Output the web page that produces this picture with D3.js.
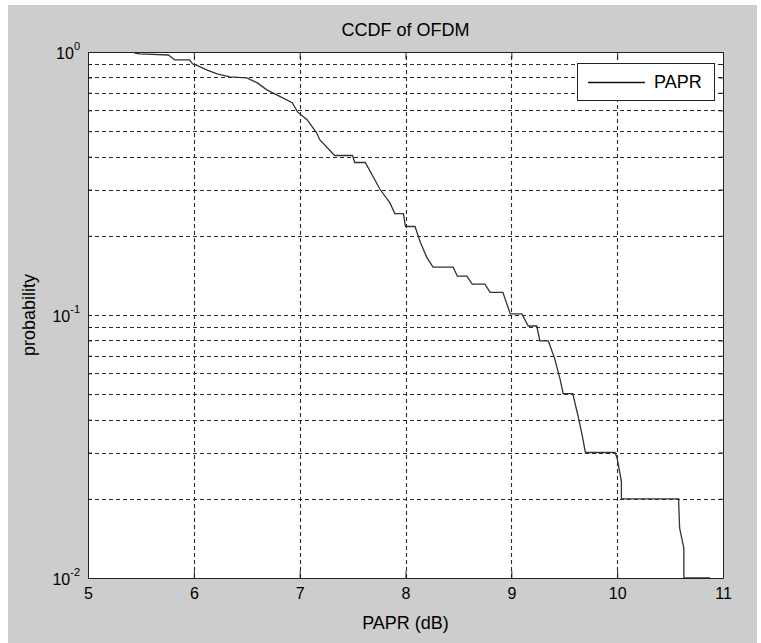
<!DOCTYPE html>
<html>
<head>
<meta charset="utf-8">
<script src="https://cdn.jsdelivr.net/npm/d3@7"></script>
<style>
	body { margin: 0; background: #fff; }
	text { font-family: "Liberation Sans", Arial, sans-serif; fill: #000; }
</style>
</head>
<body>
<script>
// chart texts
var title = 'CCDF of OFDM',
	xLabel = 'PAPR (dB)',
	yLabel = 'probability',
	seriesName = 'PAPR';

// tick labels
var xTicks = [5, 6, 7, 8, 9, 10, 11];
var yDecades = [1, 0.1, 0.01],
	yExponents = ['0', '-1', '-2'];

// stair-step CCDF (PAPR in dB, probability)
var papr = [5.44, 5.49, 5.76, 5.82, 5.96, 5.99, 6.02, 6.12, 6.22, 6.34, 6.50, 6.60,
	6.69, 6.84, 6.93, 6.98, 7.07, 7.16, 7.19, 7.33, 7.50, 7.52, 7.62, 7.76, 7.85,
	7.90, 7.98, 8.00, 8.09, 8.14, 8.20, 8.26, 8.45, 8.49, 8.58, 8.63, 8.75, 8.80,
	8.92, 8.99, 9.10, 9.16, 9.24, 9.27, 9.35, 9.41, 9.46, 9.49, 9.58, 9.63, 9.67,
	9.70, 9.98, 10.00, 10.04, 10.04, 10.58, 10.59, 10.63, 10.63, 10.88];
var prob = [0.99, 0.983, 0.974, 0.933, 0.933, 0.90, 0.893, 0.855, 0.825, 0.804, 0.797, 0.763,
	0.718, 0.669, 0.641, 0.592, 0.553, 0.493, 0.464, 0.404, 0.404, 0.38, 0.38, 0.30, 0.268,
	0.243, 0.243, 0.217, 0.217, 0.189, 0.166, 0.152, 0.152, 0.1405, 0.1405, 0.131, 0.131, 0.122,
	0.122, 0.101, 0.101, 0.0908, 0.0908, 0.0797, 0.0797, 0.0681, 0.0572, 0.0502, 0.0502, 0.0414, 0.0348,
	0.03, 0.03, 0.0285, 0.0233, 0.02, 0.02, 0.0155, 0.013, 0.01, 0.01];

var width = 761,
	height = 643;

// plot box inside the grey figure
var margin = {top: 52, right: 38, bottom: 64, left: 88};

var svg = d3.select('body')
	.append('svg')
	.attr('width', width)
	.attr('height', height);

// grey figure background
svg.append('rect')
	.attr('x', 8)
	.attr('y', 5)
	.attr('width', width - 12)
	.attr('height', height - 5)
	.attr('fill', '#cdcdcd');

var x = d3.scaleLinear()
	.domain([5, 11])
	.range([margin.left, width - margin.right]);

var y = d3.scaleLog()
	.domain([0.01, 1])
	.range([height - margin.bottom - 1, margin.top]);

var x0 = x.range()[0], x1 = x.range()[1],
	y0 = y.range()[0], y1 = y.range()[1];

// white axes area
svg.append('rect')
	.attr('x', x0)
	.attr('y', y1)
	.attr('width', x1 - x0)
	.attr('height', y0 - y1)
	.attr('fill', '#fff');

// dotted grid, minor lines included on the log axis
var grid = svg.append('g')
	.attr('stroke', '#2a2a2a')
	.attr('stroke-width', 1.1)
	.attr('stroke-dasharray', '4,3');

grid.selectAll('.hg')
	.data(y.ticks().filter(function(d) { return d > 0.01 && d < 1; }))
	.enter().append('line')
	.attr('x1', x0)
	.attr('x2', x1)
	.attr('y1', function(d) { return Math.round(y(d)) + 0.5; })
	.attr('y2', function(d) { return Math.round(y(d)) + 0.5; });

grid.selectAll('.vg')
	.data(xTicks.slice(1, -1))
	.enter().append('line')
	.attr('y1', y0)
	.attr('y2', y1)
	.attr('x1', function(d) { return Math.round(x(d)) + 0.5; })
	.attr('x2', function(d) { return Math.round(x(d)) + 0.5; });

// the ccdf curve
var line = d3.line()
	.x(function(d, i) { return x(papr[i]); })
	.y(function(d, i) { return y(prob[i]); });

svg.append('path')
	.datum(papr)
	.attr('d', line)
	.attr('fill', 'none')
	.attr('stroke', '#333')
	.attr('stroke-width', 1.3);

// axes with inward ticks like matlab
var axes = svg.append('g');

axes.append('g')
	.attr('transform', 'translate(0,' + y0 + ')')
	.call(d3.axisBottom(x).tickValues(xTicks).tickFormat(d3.format('d'))
		.tickSizeInner(-7).tickSizeOuter(0).tickPadding(10));

axes.append('g')
	.attr('transform', 'translate(0,' + y1 + ')')
	.call(d3.axisTop(x).tickValues(xTicks).tickSizeInner(-7).tickSizeOuter(0).tickFormat(''));

var minor = y.ticks();

axes.append('g')
	.attr('transform', 'translate(' + x0 + ',0)')
	.call(d3.axisLeft(y).tickValues(minor).tickSizeInner(-4).tickSizeOuter(0).tickFormat(''));

axes.append('g')
	.attr('transform', 'translate(' + x1 + ',0)')
	.call(d3.axisRight(y).tickValues(minor).tickSizeInner(-4).tickSizeOuter(0).tickFormat(''));

axes.selectAll('.domain').attr('stroke', '#222');
axes.selectAll('.tick line').attr('stroke', '#222');
axes.selectAll('.tick text')
	.attr('font-size', 16)
	.attr('font-family', '"Liberation Sans", Arial, sans-serif')
	.attr('fill', '#111');

// decade labels 10^n
var ylab = svg.append('g')
	.selectAll('text')
	.data(yDecades)
	.enter().append('text')
	.attr('x', 80)
	.attr('y', function(d) { return y(d) + 7; })
	.attr('text-anchor', 'end')
	.attr('font-size', 16);

ylab.append('tspan').text('10');
ylab.append('tspan')
	.attr('dy', -9)
	.attr('font-size', 11)
	.text(function(d, i) { return yExponents[i]; });

// title and axis labels
svg.append('text')
	.attr('x', (x0 + x1) / 2)
	.attr('y', 36)
	.attr('text-anchor', 'middle')
	.attr('font-size', 18)
	.text(title);

svg.append('text')
	.attr('x', (x0 + x1) / 2)
	.attr('y', 629)
	.attr('text-anchor', 'middle')
	.attr('font-size', 18)
	.text(xLabel);

svg.append('text')
	.attr('transform', 'translate(35,' + (y0 + y1) / 2 + ') rotate(-90)')
	.attr('text-anchor', 'middle')
	.attr('font-size', 18)
	.text(yLabel);

// legend box
var legend = svg.append('g')
	.attr('transform', 'translate(577,63)');

legend.append('rect')
	.attr('x', 0.5)
	.attr('y', 0.5)
	.attr('width', 137)
	.attr('height', 37)
	.attr('fill', '#fff')
	.attr('stroke', '#222');

legend.append('line')
	.attr('x1', 11)
	.attr('x2', 68)
	.attr('y1', 19.5)
	.attr('y2', 19.5)
	.attr('stroke', '#111')
	.attr('stroke-width', 1.3);

legend.append('text')
	.attr('x', 77)
	.attr('y', 25)
	.attr('font-size', 18)
	.text(seriesName);
</script>
</body>
</html>
